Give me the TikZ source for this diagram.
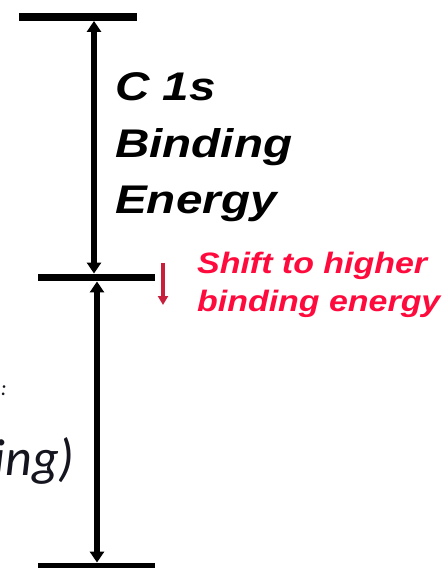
\documentclass[tikz,border=0pt]{standalone}
\usepackage{fontspec}
\setmainfont{Liberation Sans}
\newfontfamily\carl{Carlito}
\usetikzlibrary{arrows.meta}
\definecolor{shiftred}{HTML}{FF0A3C}
\definecolor{arrred}{HTML}{C8203C}
\definecolor{leftink}{HTML}{15151F}
\tikzset{
  bar/.style={fill=black, inner sep=0pt, minimum height=7.5pt, minimum width=117pt},
  dimarrow/.style={line width=5.5pt, {Triangle[length=11pt,width=14pt]}-{Triangle[length=11pt,width=14pt]}},
  redarrow/.style={arrred, line width=3.5pt, -{Triangle[length=9pt,width=10pt]}},
  mainlbl/.style={inner sep=0pt, anchor=base west, font=\fontsize{40}{48}\selectfont\bfseries\itshape},
  redlbl/.style={inner sep=0pt, anchor=base west, text=shiftred, font=\fontsize{29.5}{36}\selectfont\bfseries\itshape},
  leftlbl/.style={inner sep=0pt, anchor=base east, text=leftink}
}
\begin{document}
\begin{tikzpicture}[x=1pt,y=-1pt]
\useasboundingbox (0,0) rectangle (443,568);
% bars
\node[bar, minimum width=118pt] (topbar) at (78,17) {};
\node[bar] (midbar) at (96.5,277.5) {};
\node[bar] (botbar) at (96.5,566.5) {};
% dimension arrows
\coordinate (ua) at (94,0);
\coordinate (la) at (97,0);
\draw[dimarrow] (topbar.south -| ua) -- (midbar.north -| ua);
\draw[dimarrow] (midbar.south -| la) -- (botbar.north -| la);
% red shift arrow
\coordinate (rs) at (163,263);
\coordinate (re) at (163,305);
\draw[redarrow] (rs) -- (re);
% labels
\node[mainlbl] (l1) at (115,100) {\scalebox{1.19}[1]{C 1s}};
\node[mainlbl] (l2) at (115,157) {\scalebox{1.19}[1]{Binding}};
\node[mainlbl] (l3) at (115,213) {\scalebox{1.19}[1]{Energy}};
\node[redlbl] (s1) at (197,273) {\scalebox{1.15}[1]{Shift to higher}};
\node[redlbl] (s2) at (197,311) {\scalebox{1.15}[1]{binding energy}};
\node[leftlbl, font=\carl\itshape\fontsize{22}{26}\selectfont] (lc) at (7,395) {:};
\node[leftlbl, font=\carl\itshape\fontsize{52}{60}\selectfont] (lt) at (75,475) {ing)};
\end{tikzpicture}
\end{document}
